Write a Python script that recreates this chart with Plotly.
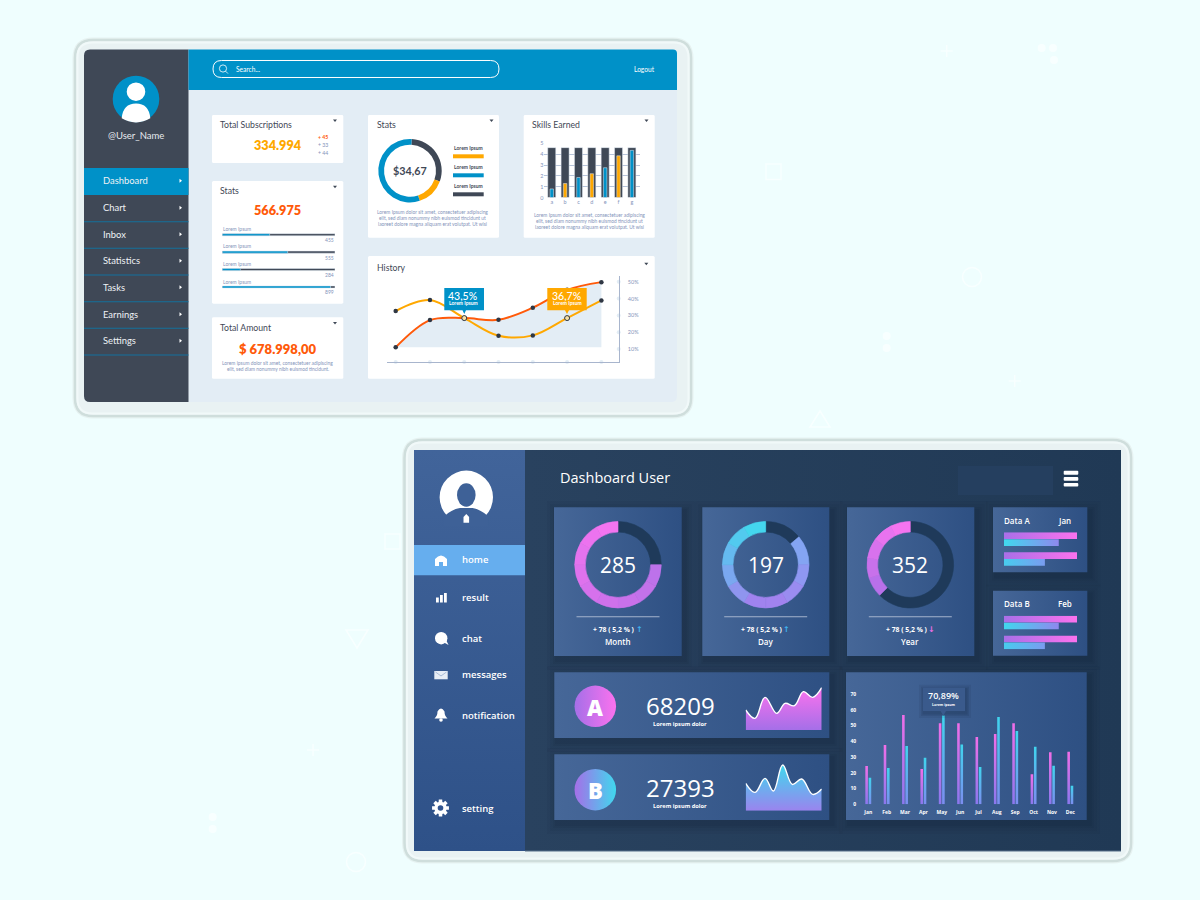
"""Two dashboard mock-ups (light and dark) on one 1200x900 Plotly canvas."""

import math

import plotly.graph_objects as go

W, H = 1200, 900
LATO = "Lato"
OPEN = "Open Sans"

BLUE = "#0091c8"
SLATE = "#3f4856"
AMBER = "#ffa800"
ORANGE = "#ff5a0a"
MUTED = "#8494ba"
RING_DARK = "#1f3a5a"
SPECK = "#f8ffff"

# --- light dashboard data ---
menu_items = ["Dashboard", "Chart", "Inbox", "Statistics", "Tasks", "Earnings", "Settings"]
stats_fill = [42, 58, 16, 96]
stats_track = [100, 100, 100, 100]
stats_numbers = ["455", "555", "284", "899"]
sub_deltas = ["+ 45", "+ 33", "+ 44"]
donut_values = [107, 52, 201]
skills_labels = ["a", "b", "c", "d", "e", "f", "g"]
skills_track = [4.6, 4.6, 4.6, 4.6, 4.6, 4.6, 4.6]
skills_values = [0.8, 1.3, 1.85, 2.2, 2.75, 3.85, 4.35]
history_x = [0, 1, 2, 3, 4, 5, 6]
history_red = [11.0, 27.2, 28.4, 27.4, 34.6, 45.2, 49.8]
history_amber = [32.6, 39.1, 28.4, 17.9, 18.1, 28.4, 38.9]
history_floor = [11, 11, 11, 11, 11, 11, 11]
history_flag_x = [2, 5]
history_flag_y = [28.4, 28.4]
history_ticks = [10, 20, 30, 40, 50]
history_tick_text = ["10%", "20%", "30%", "40%", "50%"]

# --- dark dashboard data ---
nav_items = ["home", "result", "chat", "messages", "notification", "setting"]
month_ring = [90, 30, 30, 30, 30, 30, 30, 30, 30, 30]
month_colors = [RING_DARK, "#bd72ea", "#c272ea", "#c871ea", "#cf71eb", "#d671ec",
                "#de72ed", "#e573ee", "#ec73ef", "#f374f0"]
day_ring = [50, 40, 30, 30, 30, 30, 30, 30, 30, 30, 30]
day_colors = [RING_DARK, "#84a4f2", "#8f97f1", "#9a8cf0", "#a183ef", "#a083ef",
              "#8f95ef", "#7aa8f0", "#65baf0", "#52caef", "#44d6ee"]
year_ring = [225, 27, 27, 27, 27, 27]
year_colors = [RING_DARK, "#b870ea", "#c871eb", "#d872ed", "#e873ef", "#f574f0"]
data_a_values = [100, 75, 100, 56]
data_b_values = [100, 75, 100, 56]
area_a_x = [0, 28, 58, 93, 118, 146, 173, 201, 228]
area_a_y = [60, 35, 98, 50, 80, 73, 115, 98, 127]
area_b_x = [0, 28, 58, 83, 111, 140, 168, 201, 228]
area_b_y = [82, 55, 97, 59, 137, 79, 95, 49, 65]
months = ["Jan", "Feb", "Mar", "Apr", "May", "Jun", "Jul", "Aug", "Sep", "Oct", "Nov", "Dec"]
month_pink = [24.3, 37.6, 56.7, 22.4, 51.4, 51.4, 42.7, 44.6, 51.4, 19, 33, 33.4]
month_blue = [16.9, 23, 37, 29.6, 56.3, 38, 23.7, 55.4, 46.5, 36.6, 24.5, 11.8]

LOREM = ["Lorem Ipsum dolor sit amet, consectetuer adipiscing",
         "elit, sed diam nonummy nibh euismod tincidunt ut",
         "laoreet dolore magna aliquam erat volutpat. Ut wisi"]

fig = go.Figure()
shapes = []
notes = []
axes = {}
layer = "below"  # switched to "above" for everything that sits on gradient fills


def px(x, y):
    return f"{x / W:.5f},{1 - y / H:.5f}"


def path(*parts):
    """Build an SVG path from letters and (x, y) pixel tuples."""
    return " ".join(p if isinstance(p, str) else px(*p) for p in parts)


def add_path(d, fill=None, line=None, width=0, opacity=1):
    shapes.append(dict(type="path", xref="paper", yref="paper", path=d, fillcolor=fill,
                       line=dict(color=line, width=width), opacity=opacity, layer=layer))


def rect(x0, y0, x1, y1, fill=None, line=None, width=0, opacity=1):
    shapes.append(dict(type="rect", xref="paper", yref="paper", x0=x0 / W, x1=x1 / W,
                       y0=1 - y0 / H, y1=1 - y1 / H, fillcolor=fill,
                       line=dict(color=line, width=width), opacity=opacity, layer=layer))


def circle(cx, cy, rx, ry=None, fill=None, line=None, width=0):
    ry = rx if ry is None else ry
    shapes.append(dict(type="circle", xref="paper", yref="paper", x0=(cx - rx) / W, x1=(cx + rx) / W,
                       y0=1 - (cy + ry) / H, y1=1 - (cy - ry) / H, fillcolor=fill,
                       line=dict(color=line, width=width), layer=layer))


def round_rect(x0, y0, x1, y1, r, fill=None, line=None, width=0, opacity=1):
    d = path("M", (x0 + r, y0), "L", (x1 - r, y0), "Q", (x1, y0), (x1, y0 + r),
             "L", (x1, y1 - r), "Q", (x1, y1), (x1 - r, y1),
             "L", (x0 + r, y1), "Q", (x0, y1), (x0, y1 - r),
             "L", (x0, y0 + r), "Q", (x0, y0), (x0 + r, y0), "Z")
    add_path(d, fill, line, width, opacity)


def txt(x, y, s, size, color, font=LATO, weight=400, anchor="center"):
    x = x - 1 if anchor == "left" else x
    notes.append(dict(x=x / W, y=1 - y / H, xref="paper", yref="paper", text=s, showarrow=False,
                      xanchor=anchor, yanchor="middle", borderpad=0,
                      font=dict(family=font, size=size, color=color, weight=weight)))


def make_axes(x0, y0, x1, y1, xrange, yrange, xopts=None, yopts=None):
    """Axis pair whose plot area covers the given pixel box."""
    n = len(axes) // 2 + 1
    base = dict(visible=False, showgrid=False, zeroline=False, fixedrange=True)
    xa = dict(base, domain=[x0 / W, x1 / W], range=xrange, anchor=f"y{n}", **(xopts or {}))
    ya = dict(base, domain=[1 - y1 / H, 1 - y0 / H], range=yrange, anchor=f"x{n}", **(yopts or {}))
    axes[f"xaxis{n}"] = xa
    axes[f"yaxis{n}"] = ya
    return f"x{n}", f"y{n}"


# lowest subplot: one data unit is one pixel; panels live here so charts stack on top
PX, PY = make_axes(0, 0, W, H, [0, W], [H, 0])


def grad_box(xa, ya, xs, ys, c0, c1, kind):
    fig.add_trace(go.Scatter(x=xs, y=ys, xaxis=xa, yaxis=ya, mode="lines", line=dict(width=0),
                             fill="toself", hoverinfo="skip", showlegend=False,
                             fillgradient=dict(type=kind, colorscale=[[0, c0], [1, c1]])))


def grad_rect(x0, y0, x1, y1, c0, c1, kind="horizontal"):
    grad_box(PX, PY, [x0, x1, x1, x0, x0], [y0, y0, y1, y1, y0], c0, c1, kind)


def panel(x0, y0, x1, y1):
    for grow, alpha in ((10, 0.05), (7, 0.06), (4, 0.07), (2, 0.08)):
        a0, b0, a1, b1 = x0 - grow + 3, y0 - grow + 4, x1 + grow + 3, y1 + grow + 4
        fig.add_trace(go.Scatter(x=[a0, a1, a1, a0, a0], y=[b0, b0, b1, b1, b0], xaxis=PX, yaxis=PY,
                                 mode="lines", line=dict(width=0), fill="toself",
                                 fillcolor=f"rgba(12,28,48,{alpha})", hoverinfo="skip", showlegend=False))
    grad_rect(x0, y0, x1, y1, "#466798", "#2e5083")


def ring(values, colors, cx, cy, r, hole):
    fig.add_trace(go.Pie(values=values, marker=dict(colors=colors, line=dict(color=colors, width=0.6)), hole=hole,
                         sort=False, direction="clockwise", rotation=0, textinfo="none",
                         hoverinfo="skip", showlegend=False,
                         domain=dict(x=[(cx - r) / W, (cx + r) / W], y=[1 - (cy + r) / H, 1 - (cy - r) / H])))


def caret(x, y):
    add_path(path("M", (x - 2, y - 1.2), "L", (x + 2, y - 1.2), "L", (x, y + 1.2), "Z"), SLATE)


# ---------------------------------------------------------------- background specks
for sx, sy in ((1041.7, 48), (1053, 48), (1054, 60), (886.7, 336), (886.7, 348), (212.7, 817), (212.7, 829)):
    circle(sx, sy, 4, fill=SPECK)
rect(766, 164, 781, 179.5, None, SPECK, 1.5)
rect(385, 534, 400, 549, None, SPECK, 1.5)
circle(972, 277, 9.5, line=SPECK, width=1.5)
circle(356, 862, 9.5, line=SPECK, width=1.5)
for sx, sy in ((946.7, 51), (1014.7, 381), (313, 750)):
    add_path(path("M", (sx - 6, sy), "L", (sx + 6, sy), "M", (sx, sy - 6), "L", (sx, sy + 6)), None, SPECK, 1.5)
add_path(path("M", (820, 411), "L", (830, 427), "L", (810, 427), "Z"), None, SPECK, 1.5)
add_path(path("M", (346, 630), "L", (368, 630), "L", (357, 648), "Z"), None, SPECK, 1.5)

# ---------------------------------------------------------------- frames
for fx0, fy0, fx1, fy1 in ((75, 40, 691, 416), (404.5, 440, 1131, 861)):
    round_rect(fx0 - 1.5, fy0 - 1.5, fx1 + 1.5, fy1 + 1.5, 20, None, "#e6f2f1", 2)
    round_rect(fx0, fy0, fx1, fy1, 18, "#e9f2f3", "#cfdedc", 2.5)
    round_rect(fx0 + 2.5, fy0 + 2.5, fx1 - 2.5, fy1 - 2.5, 15, None, "#f1f9f9", 2)

# ---------------------------------------------------------------- light dashboard
round_rect(84, 49.5, 677, 402, 6, "#e3edf5")
add_path(path("M", (90, 49.5), "L", (188.5, 49.5), "L", (188.5, 402), "L", (90, 402),
              "Q", (84, 402), (84, 396), "L", (84, 55.5), "Q", (84, 49.5), (90, 49.5), "Z"), SLATE)
add_path(path("M", (188.5, 49.5), "L", (673, 49.5), "Q", (677, 49.5), (677, 53.5),
              "L", (677, 90), "L", (188.5, 90), "Z"), BLUE)

circle(136, 99, 23.3, fill=BLUE)
circle(136, 91.7, 9.3, fill="#ffffff")
add_path(path("M", (121.7, 118.3), "Q", (123, 103.5), (136, 103.5), "Q", (149, 103.5), (150.3, 118.3),
              "Q", (143, 122.6), (136, 122.4), "Q", (129, 122.6), (121.7, 118.3), "Z"), "#ffffff")
txt(136, 135.7, "@User_Name", 9.5, "#e6eaee")

rect(84, 168, 188.5, 195, BLUE)
menu_y = [180.7, 207.7, 234.2, 260.7, 287.2, 314.2, 340.7]
for label, my in zip(menu_items, menu_y):
    txt(103, my, label, 9.4, "#eef2f5", anchor="left")
    add_path(path("M", (179.5, my - 2), "L", (182, my), "L", (179.5, my + 2), "Z"), "#ffffff")
for sy in (221.7, 248.3, 275, 301.7, 328.3, 355):
    rect(84, sy - 0.5, 188.5, sy + 0.5, "#14719d")

round_rect(213, 60.5, 499, 77.5, 8.5, None, "#ffffff", 1)
circle(223, 68.5, 3.6, line="#ffffff", width=0.8)
add_path(path("M", (225.6, 71.2), "L", (228, 73.6)), None, "#ffffff", 0.8)
txt(236, 68.5, "Search...", 6.6, "#ffffff", anchor="left")
txt(644.5, 68.5, "Logout", 6.6, "#ffffff")

# cards
for box in ((212, 115, 343.3, 163), (212, 181, 343.3, 303.7), (212, 317.3, 343.3, 378.7),
            (368, 115, 499, 237.7), (523.7, 115, 654.7, 237.7), (368, 256, 654.7, 378.7)):
    round_rect(*box, 1.5, "#ffffff")
for cx, cy in ((335, 120.7), (335, 187), (335, 323.3), (491.5, 120.7), (646.5, 120.7), (646.3, 264)):
    caret(cx, cy)

txt(219.5, 124.7, "Total Subscriptions", 8.7, SLATE, anchor="left")
txt(277.5, 145, "334.994", 12.7, AMBER, weight=800)
for s, sy, col, wt in zip(sub_deltas, (137, 145, 153), (ORANGE, MUTED, MUTED), (700, 400, 400)):
    txt(323, sy, s, 5.2, col, weight=wt)

txt(219.5, 190.7, "Stats", 8.7, SLATE, anchor="left")
txt(277.7, 210, "566.975", 12.7, ORANGE, weight=800)
xa, ya = make_axes(222.3, 226, 335, 295.7, [0, 100], [3.5, -0.5])
row_idx = [0, 1, 2, 3]
fig.add_trace(go.Bar(y=row_idx, x=stats_track, orientation="h", width=0.12, marker_color=SLATE,
                     xaxis=xa, yaxis=ya, hoverinfo="skip", showlegend=False))
fig.add_trace(go.Bar(y=row_idx, x=stats_fill, orientation="h", width=0.12, marker_color=BLUE,
                     xaxis=xa, yaxis=ya, hoverinfo="skip", showlegend=False))
for i, num in enumerate(stats_numbers):
    txt(223, 229 + i * 17.5, "Lorem Ipsum", 5, MUTED, anchor="left")
    txt(335, 240 + i * 17.5, num, 5, MUTED, anchor="right")

txt(219.5, 327.3, "Total Amount", 8.7, SLATE, anchor="left")
txt(277.7, 349, "$ 678.998,00", 13, ORANGE, weight=800)
txt(277.7, 362.7, "Lorem ipsum dolor sit amet, consectetuer adipiscing", 4.9, MUTED)
txt(277.7, 368.7, "elit, sed diam nonummy nibh euismod tincidunt.", 4.9, MUTED)

# stats donut
txt(376.7, 124.7, "Stats", 8.7, SLATE, anchor="left")
fig.add_trace(go.Pie(values=donut_values, marker=dict(colors=[SLATE, AMBER, BLUE], line=dict(width=0)),
                     hole=0.82, sort=False, direction="clockwise", rotation=3, textinfo="none",
                     hoverinfo="skip", showlegend=False,
                     domain=dict(x=[(410 - 31.7) / W, (410 + 31.7) / W],
                                 y=[1 - (170.7 + 31.7) / H, 1 - (170.7 - 31.7) / H])))
txt(410, 171, "$34,67", 10.8, SLATE, weight=700)
for ly, col in ((148, AMBER), (167, BLUE), (186, SLATE)):
    txt(468.3, ly, "Lorem Ipsum", 5, SLATE, weight=700)
    rect(453, ly + 6.3, 483.7, ly + 10.3, col)
for i, line in enumerate(LOREM):
    txt(432.3, 212 + i * 6, line, 4.9, MUTED)
    txt(589.3, 215 + i * 5.9, line, 4.9, MUTED)

# skills bars
txt(531.7, 124.7, "Skills Earned", 8.7, SLATE, anchor="left")
xa, ya = make_axes(
    544.4, 143.3, 639.9, 197.6, [-0.55, 6.6], [0, 5],
    xopts=dict(visible=True, showline=False, ticks="", tickfont=dict(family=LATO, size=5.5, color=MUTED)),
    yopts=dict(visible=True, showgrid=True, gridcolor="#b6c4da", gridwidth=1, tickvals=[0, 1, 2, 3, 4, 5],
               ticks="", tickfont=dict(family=LATO, size=5.5, color=MUTED)),
)
fig.add_trace(go.Bar(x=skills_labels, y=skills_track, width=0.6, marker_color=SLATE,
                     xaxis=xa, yaxis=ya, hoverinfo="skip", showlegend=False))
fig.add_trace(go.Bar(x=skills_labels, y=skills_values, width=0.26,
                     marker=dict(color=[BLUE, AMBER, BLUE, AMBER, BLUE, AMBER, BLUE]),
                     xaxis=xa, yaxis=ya, hoverinfo="skip", showlegend=False))

# history lines
txt(376.7, 267.7, "History", 8.7, SLATE, anchor="left")
xa, ya = make_axes(
    386.7, 276, 618.7, 362, [-0.262, 6.505], [2.26, 53.45],
    xopts=dict(visible=True, showline=True, linecolor="#a8b5cd", linewidth=1, showticklabels=False, ticks=""),
    yopts=dict(visible=True, side="right", showline=True, linecolor="#a8b5cd", linewidth=1,
               tickvals=history_ticks, ticktext=history_tick_text, ticks="outside", ticklen=7,
               tickcolor="rgba(0,0,0,0)", tickfont=dict(family=LATO, size=5.5, color=MUTED)),
)
fig.add_trace(go.Scatter(x=history_x, y=history_floor, xaxis=xa, yaxis=ya, mode="lines", line=dict(width=0),
                         hoverinfo="skip", showlegend=False))
fig.add_trace(go.Scatter(x=history_x, y=history_red, xaxis=xa, yaxis=ya, mode="lines", fill="tonexty",
                         fillcolor="#e3edf5", line=dict(color=ORANGE, width=2, shape="spline", smoothing=1.0),
                         hoverinfo="skip", showlegend=False))
fig.add_trace(go.Scatter(x=history_x, y=history_amber, xaxis=xa, yaxis=ya, mode="lines",
                         line=dict(color=AMBER, width=2, shape="spline", smoothing=1.0),
                         hoverinfo="skip", showlegend=False))
for ys in (history_red, history_amber):
    fig.add_trace(go.Scatter(x=history_x, y=ys, xaxis=xa, yaxis=ya, mode="markers",
                             marker=dict(color="#2f3744", size=4.5, line=dict(width=0)),
                             hoverinfo="skip", showlegend=False))
fig.add_trace(go.Scatter(x=history_flag_x, y=history_flag_y, xaxis=xa, yaxis=ya, mode="markers",
                         marker=dict(color="#f6dfa4", size=5, line=dict(color="#2f3744", width=1)),
                         hoverinfo="skip", showlegend=False))
fig.add_trace(go.Scatter(x=history_x, y=[2.26] * 7, xaxis=xa, yaxis=ya, mode="markers", cliponaxis=False,
                         marker=dict(color="#e3edf5", size=4), hoverinfo="skip", showlegend=False))
fig.add_trace(go.Scatter(x=[6.505] * 5, y=history_ticks, xaxis=xa, yaxis=ya, mode="markers", cliponaxis=False,
                         marker=dict(color="#e3edf5", size=4), hoverinfo="skip", showlegend=False))

# ---------------------------------------------------------------- dark dashboard
layer = "above"
grad_rect(525, 450, 1121, 851, "#29425f", "#203955")
# vertical gradients run from the bottom of the screen up
grad_rect(414, 450, 525, 851, "#2e5188", "#41649a", "vertical")
rect(525, 850.4, 1121, 851.4, "#566f8a")
rect(958, 466, 1053, 495, "#253f5f")
for by0, by1 in ((470.7, 474.7), (477, 480.8), (483, 486.6)):
    round_rect(1063.7, by0, 1078.3, by1, 1, "#ffffff")
txt(560, 477.3, "Dashboard User", 14.5, "#ffffff", font=OPEN, anchor="left")

# avatar
AV = "#3e6197"
circle(466.3, 497.3, 26.7, fill="#ffffff")
add_path(path("M", (444, 516.5), "Q", (451, 509.5), (460, 508), "L", (472.5, 508), "Q", (481, 509.5), (488.5, 516.5),
              "L", (488.5, 526), "L", (444, 526), "Z"), AV)
circle(466.3, 495, 9.3, 11.7, fill=AV)
add_path(path("M", (463.5, 522.7), "L", (463.5, 517), "L", (466.3, 514), "L", (469.1, 517), "L", (469.1, 522.7), "Z"), "#ffffff")

rect(414, 545, 525, 575.3, "#66aeee")
for label, ny in zip(nav_items, (559.3, 597.3, 638.7, 674.7, 715.7, 808.3)):
    txt(461.7, ny, label, 9.5, "#ffffff", font=OPEN, weight=600, anchor="left")
# nav icons
add_path(path("M", (435, 566), "L", (435, 559), "Q", (441, 552), (447, 559), "L", (447, 566), "L", (443, 566),
              "L", (443, 562), "L", (439, 562), "L", (439, 566), "Z"), "#ffffff")
for bx, btop in ((436, 597.5), (440, 595), (444, 593)):
    rect(bx, btop, bx + 2.8, 602.5, "#ffffff")
circle(441.2, 638.2, 6.2, fill="#ffffff")
add_path(path("M", (443, 642), "L", (448.6, 645), "L", (446, 640), "Z"), "#ffffff")
rect(434.3, 671, 447.7, 679.3, "#e8eef6")
add_path(path("M", (435.5, 672), "L", (441, 676), "L", (446.5, 672)), None, "#8fa6c8", 0.7)
add_path(path("M", (434.5, 718.5), "Q", (437.5, 716), (437.5, 711.5), "Q", (441, 705.5), (444.5, 711.5),
              "Q", (444.5, 716), (447.5, 718.5), "Z"), "#ffffff")
circle(441, 720, 1.8, fill="#ffffff")
gear = []
for k in range(8):
    mid = k * math.pi / 4
    for off, rad in ((-0.2, 8.6), (0.2, 8.6), (0.3, 6.2), (0.48, 6.2)):
        gear.append((440.5 + rad * math.cos(mid + off), 808 + rad * math.sin(mid + off)))
add_path("M " + " L ".join(px(*p) for p in gear) + " Z", "#ffffff")
circle(440.5, 808, 2.8, fill="#315490")

# ring cards
panel(554, 507.3, 681.7, 656)
panel(702.3, 507.3, 829.3, 656)
panel(847, 507.3, 974.3, 656)
ring(month_ring, month_colors, 618, 564.7, 43.3, 0.755)
ring(day_ring, day_colors, 765.7, 564.7, 43.3, 0.755)
ring(year_ring, year_colors, 910.3, 564.7, 43.3, 0.755)
for cx, val, name, arrow, acol in ((618, "285", "Month", "\u2191", "#3fb4ee"), (765.7, "197", "Day", "\u2191", "#3fb4ee"),
                                   (910.3, "352", "Year", "\u2193", "#ee70e8")):
    txt(cx, 565, val, 21, "#ffffff", font=OPEN)
    rect(cx - 41.5, 616.2, cx + 41.5, 617.2, "#a4b3cd")
    txt(cx - 3.7, 629.3, "+ 78 ( 5,2 % )", 6.8, "#ffffff", font=OPEN, weight=700)
    txt(cx + 21, 629.5, arrow, 8, acol, font="DejaVu Sans", weight=700)
    txt(cx, 641.3, name, 8, "#ffffff", font=OPEN, weight=600)

# data cards
for y0, name, mon, vals in ((507.3, "Data A", "Jan", data_a_values), (590.7, "Data B", "Feb", data_b_values)):
    panel(993, y0, 1087.3, y0 + 65)
    txt(1004, y0 + 12.7, name, 8, "#ffffff", font=OPEN, weight=600, anchor="left")
    txt(1064.7, y0 + 12.7, mon, 8, "#ffffff", font=OPEN, weight=600)
    xa, ya = make_axes(1004, y0 + 25, 1077, y0 + 58.6, [0, 100], [4.4, -0.5])
    for row, v, c0, c1 in zip((0, 1, 2.9, 3.9), vals, ("#a96fe8", "#40d8ee", "#a96fe8", "#48ccee"),
                              ("#fb72ee", "#8f88ee", "#fb72ee", "#7a9cf0")):
        grad_box(xa, ya, [0, 0, v, v, 0], [row - 0.49, row + 0.49, row + 0.49, row - 0.49, row - 0.49],
                 c0, c1, "horizontal")

# A / B cards
for y0, letter, value, cy, c_end in ((672.3, "A", "68209", 706.3, "#fb72ee"), (754.3, "B", "27393", 789.7, "#40d8ee")):
    panel(554.3, y0, 829.3, y0 + 65.7)
    fig.add_trace(go.Scatter(x=[595.3], y=[cy], xaxis=PX, yaxis=PY, mode="markers", hoverinfo="skip", showlegend=False,
                             marker=dict(size=41.5, color="#a56fe8", line=dict(width=0),
                                         gradient=dict(type="horizontal", color=c_end))))
    txt(595.3, cy + 0.5, letter, 22, "#ffffff", font=OPEN, weight=800)
    txt(680.3, y0 + 33.4, value, 24, "#ffffff", font=OPEN)
    txt(680.3, y0 + 51.5, "Lorem ipsum dolor", 5.7, "#ffffff", font=OPEN, weight=700)

for xs, ys, base_px, c0, c1 in ((area_a_x, area_a_y, 730, "#a56fe8", "#fb72ee"), (area_b_x, area_b_y, 810.7, "#9a84ee", "#40d8ee")):
    xa, ya = make_axes(745.7, base_px - 47, 821.7, base_px, [0, 228], [0, 141])
    fig.add_trace(go.Scatter(x=xs, y=ys, xaxis=xa, yaxis=ya, mode="lines", fill="tozeroy", hoverinfo="skip",
                             showlegend=False, line=dict(color="#ffffff", width=1.4, shape="spline", smoothing=1.1),
                             fillgradient=dict(type="vertical", colorscale=[[0, c0], [1, c1]])))

# monthly bars
panel(846, 672.3, 1086.7, 820)
xa, ya = make_axes(
    859.1, 694, 1079.5, 804.3, [-0.5, 11.5], [0, 70],
    xopts=dict(visible=True, tickvals=list(range(12)), ticktext=months, ticks="outside", ticklen=3,
               tickcolor="rgba(0,0,0,0)", tickfont=dict(family=OPEN, size=5, color="#ffffff", weight=700)),
    yopts=dict(visible=True, tickvals=[0, 10, 20, 30, 40, 50, 60, 70], ticks="outside", ticklen=1,
               tickcolor="rgba(0,0,0,0)", tickfont=dict(family=OPEN, size=5, color="#ffffff", weight=700)),
)
for i in range(len(months)):
    for off, vals, top, bottom in ((-0.09, month_pink, "#f26ee8", "#8a78ee"), (0.09, month_blue, "#3fd5ee", "#7d8cf0")):
        c = i + off
        grad_box(xa, ya, [c - 0.07, c - 0.07, c + 0.07, c + 0.07, c - 0.07], [0, vals[i], vals[i], 0, 0],
                 bottom, top, "vertical")

# callouts and tooltip sit above the chart marks
add_path(path("M", (444.3, 288), "L", (484, 288), "L", (484, 310.3), "L", (466, 310.3), "L", (464.3, 314),
              "L", (462.5, 310.3), "L", (444.3, 310.3), "Z"), BLUE)
add_path(path("M", (547.3, 288), "L", (586.7, 288), "L", (586.7, 310.3), "L", (569, 310.3), "L", (567, 314),
              "L", (565, 310.3), "L", (547.3, 310.3), "Z"), AMBER)
txt(463.3, 295.7, "43,5%", 10.5, "#ffffff", weight=500)
txt(463.7, 302.5, "Lorem Ipsum", 5, "#ffffff", weight=700)
txt(567, 295.7, "36,7%", 10.5, "#ffffff", weight=500)
txt(567, 302.5, "Lorem Ipsum", 5, "#ffffff", weight=700)

for grow, alpha in ((5, 0.08), (3, 0.1), (1.5, 0.12)):
    rect(923 - grow + 1, 687.7 - grow + 2, 965 + grow + 1, 711 + grow + 2, "#0c1c30", opacity=alpha)
add_path(path("M", (923, 687.7), "L", (965, 687.7), "L", (965, 711), "L", (946, 711), "L", (943.3, 715.7),
              "L", (940.6, 711), "L", (923, 711), "Z"), "#3a5a8c")
txt(943.7, 695.5, "70,89%", 9, "#ffffff", font=OPEN, weight=600)
txt(943.7, 704.6, "Lorem ipsum", 3.5, "#ffffff", font=OPEN, weight=700)

fig.update_layout(
    width=W, height=H, margin=dict(l=0, r=0, t=0, b=0, autoexpand=False), paper_bgcolor="#effefe",
    plot_bgcolor="rgba(0,0,0,0)", showlegend=False, barmode="overlay",
    shapes=shapes, annotations=notes,
    **axes,
)

fig.write_html("out.html", config=dict(displayModeBar=False),
               post_script="document.body.style.margin='0';document.body.style.overflow='hidden';")
